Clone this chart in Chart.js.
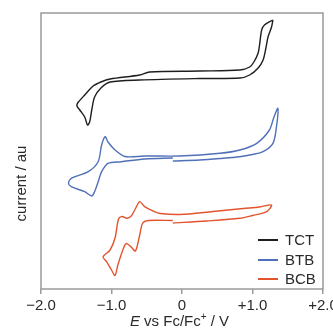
<!DOCTYPE html>
<html><head><meta charset="utf-8">
<script src="https://cdn.jsdelivr.net/npm/chart.js@4/dist/chart.umd.min.js"></script>
<style>html,body{margin:0;padding:0;background:#fff;overflow:hidden}#wrap{position:relative;width:333px;height:335px}</style>
</head><body><div id="wrap"><canvas id="c"></canvas></div>
<script>
const seriesNames = ['TCT', 'BTB', 'BCB'];
const seriesColors = ['#1e1e1e', '#5070b8', '#e2542e'];

const tctE = [1.29,1.17,1.13,1.10,1.08,1.02,0.96,0.82,0.25,-0.46,-0.60,-1.02,-1.15,-1.26,-1.38,-1.48,-1.49,-1.45,-1.38,-1.34,-1.31,-1.28,-1.24,-1.15,-1.02,-0.60,0.25,0.82,0.96,1.08,1.15,1.19,1.22,1.27,1.29];
const tctI = [269,264,259,244,236,227,222,219,218,217,214,210,207,203,194,186,183,179,172,164,167,179,192,201,207,209,210.5,211,214,221,229,241,252,262,269];

const btbE = [-0.13,0.25,0.54,0.82,1.00,1.15,1.29,1.34,1.36,1.30,1.24,1.06,0.82,0.54,-0.03,-0.53,-0.81,-0.95,-1.05,-1.09,-1.14,-1.19,-1.33,-1.57,-1.61,-1.57,-1.38,-1.28,-1.24,-1.19,-1.14,-1.05,-0.86,-0.53,-0.13];
const btbI = [128,129,130.5,132.3,134.5,137.3,145.7,162.3,180.7,171,159,145.7,139,135.7,133,133,132.5,139,147,152.3,144,127.3,117.3,110.7,105.7,102.3,97.3,93,97.3,107,117.3,125.7,127.3,130,131];

const bcbE = [-0.13,0.35,0.82,1.00,1.20,1.27,1.10,0.87,0.44,-0.03,-0.31,-0.39,-0.53,-0.60,-0.67,-0.72,-0.78,-0.85,-0.90,-0.95,-1.02,-1.12,-1.07,-1.00,-0.95,-0.91,-0.83,-0.79,-0.72,-0.66,-0.60,-0.56,-0.48,-0.13];
const bcbI = [66,68,70.7,73.5,77.3,84,82,80.5,77.5,74.5,75.5,77.3,82.3,87.3,79,73,70.7,72.5,70,51,39,32.3,27.3,19,13.5,24,40.7,45.5,42,38,54,65.5,68.5,68.5];

const xTickValues = [-2, -1, 0, 1, 2];
const xTickLabels = ['\u22122.0', '\u22121.0', '0', '+1.0', '+2.0'];
const yTitle = 'current / au';

const FONT = '"Liberation Sans", Arial, Helvetica, sans-serif';
const toPts = (E, I) => E.map((e, i) => ({x: e, y: I[i]}));
const seriesData = [toPts(tctE, tctI), toPts(btbE, btbI), toPts(bcbE, bcbI)];

const decor = {
  id: 'decor',
  afterDraw(chart) {
    const {ctx, chartArea: a} = chart;
    ctx.save();
    ctx.strokeStyle = '#9a9a9a';
    ctx.lineWidth = 1.5;
    ctx.strokeRect(a.left, a.top, a.right - a.left, a.bottom - a.top);
    const rows = [a.bottom - 49, a.bottom - 29, a.bottom - 10];
    ctx.font = '15px ' + FONT;
    ctx.textBaseline = 'middle';
    ctx.textAlign = 'left';
    chart.data.datasets.forEach((ds, i) => {
      ctx.strokeStyle = ds.borderColor;
      ctx.lineWidth = 2;
      ctx.beginPath();
      ctx.moveTo(a.right - 65, rows[i]);
      ctx.lineTo(a.right - 45, rows[i]);
      ctx.stroke();
      ctx.fillStyle = '#2a2a2a';
      ctx.fillText(ds.label, a.right - 38, rows[i] + 1);
    });
    ctx.save();
    ctx.translate(26, 183.5);
    ctx.rotate(-Math.PI / 2);
    ctx.textAlign = 'center';
    ctx.textBaseline = 'alphabetic';
    ctx.font = '15px ' + FONT;
    ctx.fillStyle = '#2a2a2a';
    ctx.fillText(yTitle, 0, 0);
    ctx.restore();
    const parts = [
      {t: 'E', f: 'italic 15px ' + FONT, dy: 0},
      {t: ' vs Fc/Fc', f: '15px ' + FONT, dy: 0},
      {t: '+', f: '10px ' + FONT, dy: -6},
      {t: ' / V', f: '15px ' + FONT, dy: 0}
    ];
    let total = 0;
    parts.forEach(p => { ctx.font = p.f; p.w = ctx.measureText(p.t).width; total += p.w; });
    let x = 179.5 - total / 2;
    ctx.textAlign = 'left';
    ctx.textBaseline = 'alphabetic';
    ctx.fillStyle = '#2a2a2a';
    parts.forEach(p => { ctx.font = p.f; ctx.fillText(p.t, x, 325.5 + p.dy); x += p.w; });
    ctx.restore();
  }
};

new Chart(document.getElementById('c'), {
  type: 'scatter',
  data: {
    datasets: seriesNames.map((n, i) => ({
      label: n,
      data: seriesData[i],
      showLine: true,
      borderColor: seriesColors[i],
      backgroundColor: seriesColors[i],
      borderWidth: 1.4,
      pointRadius: 0,
      tension: 0.3,
      fill: false
    }))
  },
  options: {
    responsive: true,
    maintainAspectRatio: false,
    animation: false,
    events: [],
    layout: {padding: {left: 41, right: 10, top: 13, bottom: 0}},
    plugins: {legend: {display: false}, tooltip: {enabled: false}},
    scales: {
      x: {
        type: 'linear', min: -2, max: 2,
        afterBuildTicks: s => { s.ticks = xTickValues.map(v => ({value: v})); },
        afterFit: s => { s.paddingLeft = 0; s.paddingRight = 0; s.height = 46; },
        border: {display: false},
        grid: {display: true, drawOnChartArea: false, drawTicks: true, tickLength: 5, color: '#9a9a9a', lineWidth: 1.5},
        ticks: {
          padding: 3,
          color: '#2a2a2a',
          font: {family: FONT, size: 15},
          maxRotation: 0, autoSkip: false,
          callback: v => { const k = xTickValues.indexOf(v); return k >= 0 ? xTickLabels[k] : ''; }
        }
      },
      y: {type: 'linear', min: 0, max: 276, display: false}
    }
  },
  plugins: [decor]
});
</script></body></html>
